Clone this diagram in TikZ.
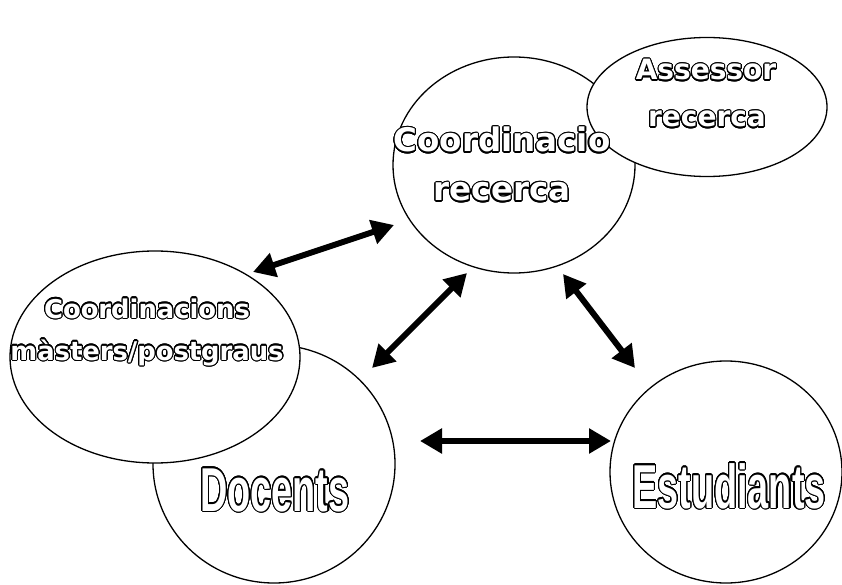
\documentclass[tikz,border=0pt]{standalone}
\usepackage{fontspec}
\usepackage{graphicx}
\usepackage[copies]{contour}
\usetikzlibrary{shapes.geometric,arrows.meta}
\newfontfamily\roundfont{DejaVu Sans}
\newfontfamily\narrowfont{Liberation Sans}
\contourlength{1.1pt}
\contournumber{24}

\begin{document}
\begin{tikzpicture}[x=1bp,y=-1bp,
  bubble/.style={draw, ellipse, line width=1.3bp, fill=white, inner sep=0pt},
  lbl/.style={anchor=base, inner sep=0pt, text=white},
  small/.style={font=\roundfont\bfseries\fontsize{#1}{#1}\selectfont},
  big/.style={font=\narrowfont\bfseries\fontsize{62bp}{62bp}\selectfont},
  link/.style={line width=6bp,
    {Triangle[length=22bp,width=24bp]}-{Triangle[length=22bp,width=24bp]}}]
\useasboundingbox[fill=white] (0,0) rectangle (842,585);

% bubbles, back to front
\node[bubble, minimum width=242bp, minimum height=238bp] (doc) at (274,464) {};
\node[bubble, minimum width=290bp, minimum height=212bp] (mast) at (155,357) {};
\node[bubble, minimum width=242bp, minimum height=216bp] (coord) at (514,165) {};
\node[bubble, minimum width=240bp, minimum height=139bp] (ass) at (707,107) {};
\node[bubble, minimum width=232bp, minimum height=222bp] (est) at (726,472) {};

% outlined labels
\node[lbl, small=28bp] (assA) at (706,80) {\contour{black}{Assessor}};
\node[lbl, small=28bp] (assB) at (707,127) {\contour{black}{recerca}};
\node[lbl, small=32.5bp] (coA) at (502,152) {\contour{black}{Coordinacio}};
\node[lbl, small=32.5bp] (coB) at (502,201) {\contour{black}{recerca}};
\node[lbl, small=25.8bp] (maA) at (147,318) {\contour{black}{Coordinacions}};
\node[lbl, small=25.8bp] (maB) at (147,360) {\contour{black}{màsters/postgraus}};
\node[lbl, big] (docT) at (275,511) {\contour{black}{\scalebox{0.61}[1]{Docents}}};
\node[lbl, big] (estT) at (729,508) {\contour{black}{\scalebox{0.61}[1]{Estudiants}}};

% arrow ends
\coordinate (l1a) at (253,272);
\coordinate (l1b) at (394,225);
\coordinate (l2a) at (372,368);
\coordinate (l2b) at (467,273);
\coordinate (l3a) at (563,274);
\coordinate (l3b) at (635,368);
\coordinate (l4a) at (420,441);
\coordinate (l4b) at (611,441);

\draw[link] (l1a) -- (l1b);
\draw[link] (l2a) -- (l2b);
\draw[link] (l3a) -- (l3b);
\draw[link] (l4a) -- (l4b);
\end{tikzpicture}
\end{document}
